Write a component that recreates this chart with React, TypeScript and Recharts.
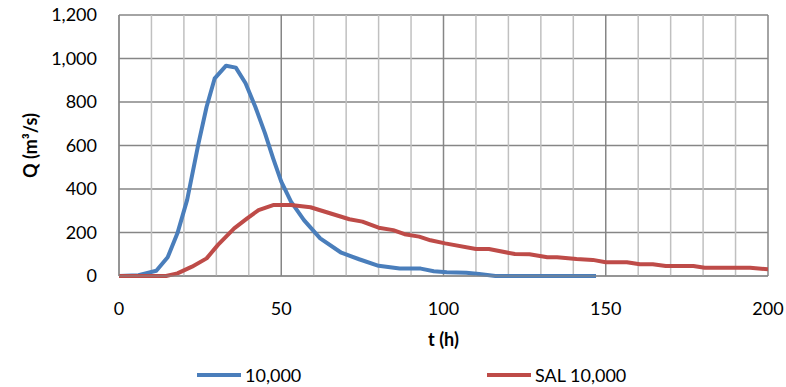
import { LineChart, Line, XAxis, YAxis, CartesianGrid, Legend, ReferenceLine, Label } from 'recharts';

// hydrograph "10,000"
const blueTime = [0, 6, 11.5, 15, 18, 21, 24.5, 27, 29.5, 33, 36, 39, 42, 45, 47.5, 50, 53, 57, 62, 68.5, 74, 80, 86.5, 93, 97, 101, 107, 111, 116, 147];
const blueFlow = [0, 4, 24, 86, 196, 350, 610, 778, 909, 967, 958, 886, 778, 656, 541, 434, 342, 257, 173, 107, 77, 47, 34, 34, 22, 17, 15, 9, 0, 0];

// hydrograph "SAL 10,000"
const redTime = [0, 14.5, 18, 22.5, 27, 30.5, 35.5, 39.5, 43, 47.5, 53, 59, 64, 71, 75, 80, 84.5, 88, 92.5, 96, 100.5, 110, 114, 122, 126.5, 132, 135, 141, 146, 150, 156.5, 160.5, 164.5, 168.5, 177, 180.5, 194.5, 200];
const redFlow = [0, 0, 12, 43, 81, 143, 219, 265, 303, 326, 326, 316, 293, 261, 250, 222, 211, 192, 181, 164, 150, 124, 124, 101, 100, 86, 86, 78, 74, 63, 63, 54, 54, 46, 46, 38, 38, 31];

const xTicks = [0, 50, 100, 150, 200];
const xMinorTicks = [10, 20, 30, 40, 60, 70, 80, 90, 110, 120, 130, 140, 160, 170, 180, 190];
const yTicks = [0, 200, 400, 600, 800, 1000, 1200];

const seriesNames = ['10,000', 'SAL 10,000'];
const BLUE = '#4A7EBB';
const RED = '#BE4B48';
const FONT = 'Lato, "Open Sans", sans-serif';

const blueData = blueTime.map((t, i) => ({ t, q: blueFlow[i] }));
const redData = redTime.map((t, i) => ({ t, q: redFlow[i] }));

function LegendBox() {
  const items = [
    { name: seriesNames[0], color: BLUE, left: 197 },
    { name: seriesNames[1], color: RED, left: 487 },
  ];
  return (
    <div style={{ position: 'relative', width: 786, height: 24, fontFamily: FONT, fontSize: 18, color: '#000' }}>
      {items.map((it) => (
        <div key={it.name} style={{ position: 'absolute', left: it.left, top: 0, display: 'flex', alignItems: 'center', height: 24 }}>
          <svg width={44} height={8}>
            <line x1={0} y1={4} x2={44} y2={4} stroke={it.color} strokeWidth={4} />
          </svg>
          <span style={{ marginLeft: 4 }}>{it.name}</span>
        </div>
      ))}
    </div>
  );
}

export default function App() {
  return (
    <div style={{ position: 'absolute', left: 0, top: 0, background: '#fff' }}>
      <LineChart width={786} height={387} margin={{ top: 15, right: 18, bottom: 0, left: 0 }}>
        <CartesianGrid stroke="#868686" strokeWidth={1.5} />
        {xMinorTicks.map((t) => (
          <ReferenceLine key={t} x={t} stroke="#C0C0C0" strokeWidth={1.5} />
        ))}
        <XAxis
          type="number"
          dataKey="t"
          domain={[0, 200]}
          ticks={xTicks}
          allowDataOverflow
          height={87}
          stroke="#868686"
          tickLine={false}
          tickSize={0}
          tickMargin={26}
          tick={{ fill: '#000', fontSize: 18, fontFamily: FONT }}
        >
          <Label value="t (h)" position="insideBottom" offset={17} style={{ fontWeight: 'bold', fontSize: 18, fontFamily: FONT, fill: '#000' }} />
        </XAxis>
        <YAxis
          type="number"
          domain={[0, 1200]}
          ticks={yTicks}
          width={119}
          stroke="#868686"
          tickLine={false}
          tickSize={0}
          tickMargin={22}
          tickFormatter={(v: number) => v.toLocaleString('en-US')}
          tick={{ fill: '#000', fontSize: 18, fontFamily: FONT }}
        >
          <Label
            value="Q (m³/s)"
            angle={-90}
            position="insideLeft"
            offset={31}
            style={{ textAnchor: 'middle', fontWeight: 'bold', fontSize: 18, fontFamily: FONT, fill: '#000' }}
          />
        </YAxis>
        <Legend verticalAlign="bottom" wrapperStyle={{ left: 0, width: 786, height: 24 }} content={() => <LegendBox />} />
        <Line data={blueData} dataKey="q" name={seriesNames[0]} stroke={BLUE} strokeWidth={4} dot={false} isAnimationActive={false} strokeLinejoin="round" />
        <Line data={redData} dataKey="q" name={seriesNames[1]} stroke={RED} strokeWidth={4} dot={false} isAnimationActive={false} strokeLinejoin="round" />
      </LineChart>
    </div>
  );
}
